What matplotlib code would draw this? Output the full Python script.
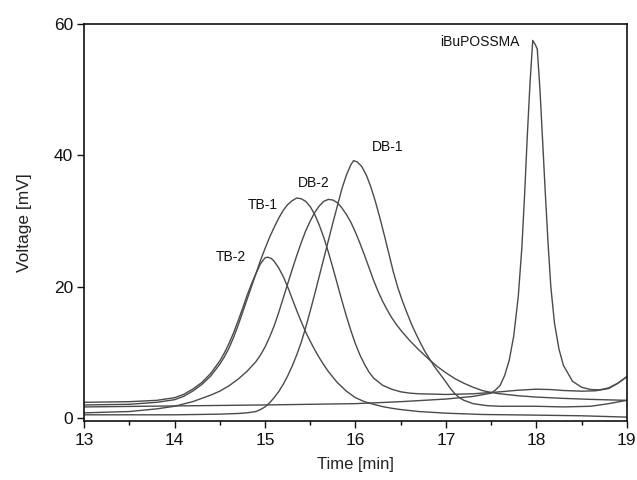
import matplotlib
matplotlib.use("Agg")
import matplotlib.pyplot as plt
from matplotlib.ticker import MultipleLocator

plt.rcParams['font.family'] = ['Liberation Sans', 'DejaVu Sans']

# ---- data ----
tb2_t = [13.0, 13.5, 13.8, 14.0, 14.1, 14.2, 14.3, 14.4, 14.5, 14.55, 14.6, 14.65, 14.7,
         14.75, 14.8, 14.85, 14.9, 14.95, 15.0, 15.03, 15.07, 15.1, 15.15, 15.2, 15.25,
         15.3, 15.35, 15.4, 15.45, 15.5, 15.55, 15.6, 15.65, 15.7, 15.8, 15.9, 16.0,
         16.1, 16.2, 16.3, 16.4, 16.5, 16.7, 17.0, 17.4, 18.0, 18.5, 19.0]
tb2_v = [2.4, 2.5, 2.7, 3.1, 3.6, 4.4, 5.4, 6.8, 8.7, 9.9, 11.3, 12.9, 14.7,
         16.6, 18.6, 20.4, 22.0, 23.5, 24.4, 24.5, 24.3, 23.9, 22.9, 21.6, 20.0,
         18.2, 16.4, 14.7, 13.1, 11.7, 10.4, 9.2, 8.1, 7.1, 5.4, 4.1, 3.1,
         2.5, 2.1, 1.75, 1.5, 1.3, 1.0, 0.75, 0.55, 0.45, 0.35, 0.15]

tb1_t = [13.0, 13.5, 13.8, 14.0, 14.1, 14.2, 14.3, 14.4, 14.5, 14.55, 14.6, 14.65, 14.7,
         14.75, 14.8, 14.85, 14.9, 14.95, 15.0, 15.05, 15.1, 15.15, 15.2, 15.25, 15.3,
         15.35, 15.4, 15.45, 15.5, 15.55, 15.6, 15.65, 15.7, 15.75, 15.8, 15.85, 15.9,
         15.95, 16.0, 16.05, 16.1, 16.15, 16.2, 16.3, 16.4, 16.5, 16.6, 16.7, 17.0,
         17.3, 17.6, 17.8, 18.0, 18.15, 18.3, 18.5, 18.65, 18.8, 18.9, 19.0]
tb1_v = [2.0, 2.1, 2.4, 2.8, 3.3, 4.1, 5.1, 6.4, 8.2, 9.3, 10.6, 12.2, 14.0,
         16.0, 18.0, 20.0, 22.0, 24.0, 25.8, 27.5, 29.0, 30.4, 31.6, 32.5, 33.1,
         33.5, 33.4, 33.0, 32.2, 31.0, 29.4, 27.5, 25.3, 22.9, 20.4, 17.9, 15.5,
         13.3, 11.3, 9.6, 8.2, 7.0, 6.1, 5.0, 4.4, 4.0, 3.8, 3.7, 3.6,
         3.7, 4.0, 4.25, 4.4, 4.35, 4.2, 4.1, 4.15, 4.5, 5.3, 6.3]

db2_t = [13.0, 13.5, 13.8, 14.0, 14.2, 14.4, 14.5, 14.6, 14.7, 14.8, 14.9, 14.95, 15.0,
         15.05, 15.1, 15.15, 15.2, 15.25, 15.3, 15.35, 15.4, 15.45, 15.5, 15.55, 15.6,
         15.65, 15.7, 15.75, 15.8, 15.85, 15.9, 15.95, 16.0, 16.05, 16.1, 16.15, 16.2,
         16.25, 16.3, 16.35, 16.4, 16.45, 16.5, 16.6, 16.7, 16.8, 16.9, 17.0, 17.1,
         17.2, 17.3, 17.4, 17.5, 17.6, 17.8, 18.0, 18.3, 18.6, 19.0]
db2_v = [0.8, 1.0, 1.4, 1.8, 2.5, 3.5, 4.1, 4.9, 5.9, 7.1, 8.6, 9.6, 10.8,
         12.3, 14.0, 16.0, 18.2, 20.4, 22.6, 24.7, 26.7, 28.5, 30.0, 31.3, 32.3,
         33.0, 33.3, 33.2, 32.8, 32.0, 31.0, 29.8, 28.3, 26.6, 24.8, 22.9, 21.0,
         19.3, 17.8, 16.5, 15.3, 14.3, 13.4, 11.8, 10.4, 9.1, 7.9, 6.9, 6.0,
         5.3, 4.7, 4.2, 3.9, 3.7, 3.4, 3.2, 3.0, 2.85, 2.7]

db1_t = [13.0, 14.0, 14.5, 14.7, 14.8, 14.9, 14.95, 15.0, 15.05, 15.1, 15.15, 15.2, 15.25,
         15.3, 15.35, 15.4, 15.45, 15.5, 15.55, 15.6, 15.65, 15.7, 15.75, 15.8, 15.85,
         15.9, 15.95, 15.98, 16.02, 16.07, 16.12, 16.17, 16.22, 16.27, 16.32, 16.37, 16.42,
         16.47, 16.52, 16.57, 16.62, 16.67, 16.72, 16.77, 16.82, 16.87, 16.93, 17.0, 17.05,
         17.1, 17.15, 17.2, 17.3, 17.45, 17.6, 18.0, 18.3, 18.6, 18.8, 19.0]
db1_v = [0.5, 0.5, 0.6, 0.7, 0.8, 1.0, 1.3, 1.7, 2.3, 3.1, 4.0, 5.1, 6.4,
         7.9, 9.6, 11.5, 13.8, 16.3, 18.9, 21.6, 24.3, 27.0, 29.7, 32.3, 34.9,
         37.0, 38.6, 39.2, 39.0, 38.3, 37.0, 35.2, 33.0, 30.5, 27.8, 25.0, 22.2,
         19.8, 17.8, 16.0, 14.3, 12.8, 11.4, 10.1, 9.0, 7.9, 6.8, 5.5, 4.5,
         3.7, 3.1, 2.7, 2.2, 1.9, 1.8, 1.8, 1.7, 1.8, 2.2, 2.7]

ibu_t = [13.0, 14.0, 15.0, 16.0, 16.5, 17.0, 17.3, 17.5, 17.55, 17.6, 17.65, 17.7, 17.75,
         17.8, 17.84, 17.87, 17.9, 17.93, 17.96, 17.99, 18.01, 18.04, 18.07, 18.1, 18.13,
         18.16, 18.2, 18.25, 18.3, 18.4, 18.5, 18.6, 18.7, 18.8, 18.9, 19.0]
ibu_v = [1.7, 1.85, 2.0, 2.2, 2.5, 2.9, 3.3, 3.8, 4.3, 5.0, 6.5, 8.8, 12.5,
         18.5, 26.0, 34.0, 43.0, 51.0, 57.5, 56.8, 56.2, 50.0, 42.0, 34.0, 26.5,
         20.0, 14.5, 10.5, 8.0, 5.6, 4.7, 4.35, 4.3, 4.6, 5.3, 6.3]

labels = ["TB-2", "TB-1", "DB-2", "DB-1", "iBuPOSSMA"]
label_t = [14.62, 14.98, 15.54, 16.36, 17.37]
label_v = [24.6, 32.4, 35.8, 41.3, 57.3]

x_ticks = [13, 14, 15, 16, 17, 18, 19]
y_ticks = [0, 20, 40, 60]

# ---- figure ----
fig = plt.figure(figsize=(6.37, 4.8), dpi=100)
ax = fig.add_axes([0.132, 0.1235, 0.852, 0.8265])

line_color = '#4a4a4a'
for tt, vv in [(tb2_t, tb2_v), (tb1_t, tb1_v), (db2_t, db2_v), (db1_t, db1_v), (ibu_t, ibu_v)]:
    ax.plot(tt, vv, color=line_color, lw=1.0, solid_joinstyle='round')

for lab, lt, lv in zip(labels, label_t, label_v):
    ax.text(lt, lv, lab, ha='center', va='center', fontsize=10, color='#111111')

ax.set_xlim(13, 19)
ax.set_ylim(-0.4, 60)
ax.set_xticks(x_ticks)
ax.set_yticks(y_ticks)
ax.xaxis.set_minor_locator(MultipleLocator(0.5))
ax.tick_params(axis='both', which='major', direction='out', length=5, width=1.0,
               labelsize=12.5, top=False, right=False, colors='#111111')
ax.tick_params(axis='y', which='major', pad=3)
ax.tick_params(axis='x', which='minor', direction='out', length=3, width=1.0, top=False)
for s in ax.spines.values():
    s.set_linewidth(1.2)
    s.set_color('#111111')

ax.set_xlabel('Time [min]', fontsize=12, labelpad=7, color='#222222')
ax.set_ylabel('Voltage [mV]', fontsize=12.5, labelpad=16, color='#222222')

fig.savefig('out.png', dpi=100)
